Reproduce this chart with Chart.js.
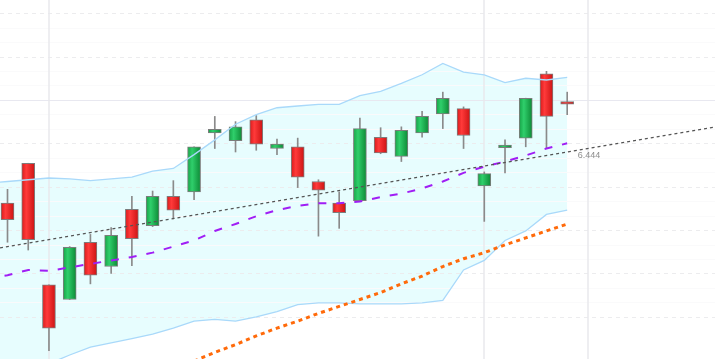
<!DOCTYPE html>
<html>
<head>
<meta charset="utf-8">
<script src="https://cdn.jsdelivr.net/npm/chart.js@4.4.1/dist/chart.umd.min.js"></script>
<style>
  html, body { margin: 0; padding: 0; background: #fff; }
</style>
</head>
<body>
<canvas id="chart" width="715" height="359"></canvas>
<script>
// candles, one per trading day (index 0..27)
var days   = [0,1,2,3,4,5,6,7,8,9,10,11,12,13,14,15,16,17,18,19,20,21,22,23,24,25,26,27];
var opens  = [6.381,6.427,6.287,6.270,6.336,6.308,6.374,6.355,6.389,6.394,6.462,6.453,6.477,6.444,6.446,6.406,6.381,6.384,6.457,6.435,6.462,6.484,6.490,6.401,6.445,6.456,6.530,6.498];
var highs  = [6.397,6.427,6.287,6.331,6.345,6.353,6.389,6.395,6.407,6.446,6.481,6.475,6.482,6.455,6.456,6.408,6.394,6.479,6.468,6.469,6.487,6.509,6.492,6.417,6.454,6.502,6.533,6.509];
var lows   = [6.336,6.327,6.211,6.270,6.288,6.300,6.309,6.354,6.363,6.385,6.444,6.440,6.442,6.437,6.399,6.343,6.352,6.384,6.438,6.429,6.457,6.467,6.444,6.360,6.416,6.446,6.444,6.483];
var closes = [6.362,6.339,6.237,6.330,6.298,6.344,6.340,6.389,6.373,6.446,6.466,6.469,6.449,6.449,6.411,6.396,6.370,6.467,6.439,6.465,6.481,6.502,6.459,6.415,6.448,6.502,6.481,6.495];

// bollinger bands, from day -1 to day 27
var bandStart  = -1;
var bandUpper  = [6.404,6.406,6.408,6.410,6.409,6.407,6.409,6.411,6.418,6.421,6.437,6.454,6.472,6.483,6.491,6.493,6.495,6.495,6.505,6.510,6.519,6.529,6.542,6.532,6.529,6.520,6.525,6.523,6.526];
var bandMiddle = [6.294,6.298,6.304,6.303,6.307,6.311,6.315,6.319,6.324,6.331,6.338,6.349,6.357,6.366,6.373,6.378,6.381,6.381,6.383,6.388,6.392,6.398,6.406,6.416,6.423,6.429,6.436,6.444,6.450];
var bandLower  = [6.183,6.191,6.199,6.196,6.206,6.215,6.220,6.225,6.230,6.237,6.245,6.247,6.245,6.250,6.256,6.264,6.266,6.266,6.265,6.265,6.265,6.266,6.269,6.304,6.315,6.338,6.349,6.368,6.373];

// long moving average, from day 9
var maStart = 9;
var maLong  = [6.199,6.209,6.218,6.228,6.237,6.245,6.254,6.262,6.270,6.278,6.288,6.297,6.308,6.317,6.324,6.333,6.341,6.349,6.357];

// trend line end points
var trendX = [-0.362, 34.13];
var trendY = [6.3295, 6.4689];
var trendLabelDay = 28;
var trendLabel = '6.444';

// grid
var yTicks = [6.25,6.30,6.35,6.40,6.45,6.50,6.55,6.60];
var xGridDays = [2, 23, 28];

function pts(start, arr) {
  return arr.map(function (v, i) { return { x: start + i, y: v }; });
}

function bodyFill(c) {
  var i = c.dataIndex;
  var up = closes[i] >= opens[i];
  var solid = up ? '#1fae4b' : '#ee2222';
  var xs = c.chart.scales && c.chart.scales.x;
  if (c.type !== 'data' || !xs) return solid;
  var px = xs.getPixelForValue(days[i]);
  if (!isFinite(px)) return solid;
  var g = c.chart.ctx.createLinearGradient(px - 6.5, 0, px + 6.5, 0);
  if (up) {
    g.addColorStop(0, '#17a347');
    g.addColorStop(0.35, '#2fcf6b');
    g.addColorStop(1, '#0d8a36');
  } else {
    g.addColorStop(0, '#d91b1b');
    g.addColorStop(0.35, '#ff3a3a');
    g.addColorStop(1, '#cc1414');
  }
  return g;
}

var gridPlugin = {
  id: 'grid',
  beforeDraw: function (chart) {
    var ctx = chart.ctx;
    ctx.save();
    ctx.fillStyle = '#fff';
    ctx.fillRect(0, 0, chart.width, chart.height);
    ctx.restore();
  },
  beforeDatasetsDraw: function (chart) {
    var ctx = chart.ctx, a = chart.chartArea;
    var xs = chart.scales.x, ys = chart.scales.y;
    ctx.save();
    // very faint minor lines
    ctx.strokeStyle = '#fafafb';
    ctx.lineWidth = 1;
    for (var k = 0; k < yTicks.length; k++) {
      for (var m = 1; m <= 2; m++) {
        var yy = Math.round(ys.getPixelForValue(yTicks[k] + m * 0.05 / 3)) + 0.5;
        ctx.beginPath(); ctx.moveTo(a.left, yy); ctx.lineTo(a.right, yy); ctx.stroke();
      }
    }
    yTicks.forEach(function (t) {
      var y = Math.round(ys.getPixelForValue(t)) + 0.5;
      if (Math.abs(t - 6.5) < 1e-6) {
        ctx.setLineDash([]);
        ctx.strokeStyle = '#e8e8f0';
      } else {
        ctx.setLineDash([4, 4]);
        ctx.strokeStyle = '#ececee';
      }
      ctx.beginPath(); ctx.moveTo(a.left, y); ctx.lineTo(a.right, y); ctx.stroke();
    });
    ctx.setLineDash([]);
    ctx.strokeStyle = '#e8e8ec';
    ctx.lineWidth = 1.5;
    xGridDays.forEach(function (d) {
      var x = Math.round(xs.getPixelForValue(d));
      ctx.beginPath(); ctx.moveTo(x, a.top); ctx.lineTo(x, a.bottom); ctx.stroke();
    });
    ctx.restore();
  },
  afterDatasetsDraw: function (chart) {
    var ctx = chart.ctx;
    var x = chart.scales.x.getPixelForValue(trendLabelDay);
    var y = chart.scales.y.getPixelForValue(parseFloat(trendLabel));
    ctx.save();
    ctx.font = '9px "Liberation Sans", Arial, sans-serif';
    ctx.fillStyle = '#8c8c8c';
    ctx.textAlign = 'center';
    ctx.textBaseline = 'middle';
    ctx.fillText(trendLabel, x + 1, y + 7);
    ctx.restore();
  }
};

new Chart(document.getElementById('chart'), {
  type: 'bar',
  data: {
    datasets: [
      { type: 'line', label: 'upper', data: pts(bandStart, bandUpper), borderColor: '#a9d9fa', borderWidth: 1.3,
        backgroundColor: '#e7fdfe', fill: 1, pointRadius: 0, order: 3 },
      { type: 'line', label: 'lower', data: pts(bandStart, bandLower), borderColor: '#a9d9fa', borderWidth: 1.3,
        fill: false, pointRadius: 0, order: 3 },
      { type: 'line', label: 'long', data: pts(maStart, maLong), borderColor: '#ff6a0a', borderWidth: 3,
        borderDash: [4, 4], fill: false, pointRadius: 0, order: 2 },
      { type: 'line', label: 'middle', data: pts(bandStart, bandMiddle), borderColor: '#a01ef5', borderWidth: 2,
        borderDash: [8, 10], fill: false, pointRadius: 0, order: 1 },
      { type: 'line', label: 'trend', data: [{ x: trendX[0], y: trendY[0] }, { x: trendX[1], y: trendY[1] }],
        borderColor: '#555', borderWidth: 1.2, borderDash: [3, 3], fill: false, pointRadius: 0, order: 0 },
      { label: 'wick', data: days.map(function (d, i) { return { x: d, y: [lows[i], highs[i]] }; }),
        backgroundColor: '#8a8a8a', barThickness: 1, grouped: false, order: 6 },
      { label: 'body', data: days.map(function (d, i) { return { x: d, y: [opens[i], closes[i]] }; }),
        backgroundColor: bodyFill, borderColor: '#7c7c7c', borderWidth: 1, borderSkipped: false,
        barThickness: 13, grouped: false, order: 5 }
    ]
  },
  options: {
    responsive: false,
    animation: false,
    events: [],
    layout: { padding: 0 },
    scales: {
      x: { type: 'linear', min: -0.362, max: 34.13, offset: false, display: false },
      y: { type: 'linear', min: 6.2014, max: 6.6152, display: false }
    },
    plugins: {
      legend: { display: false },
      tooltip: { enabled: false },
      filler: { drawTime: 'beforeDatasetsDraw' }
    }
  },
  plugins: [gridPlugin]
});
</script>
</body>
</html>
